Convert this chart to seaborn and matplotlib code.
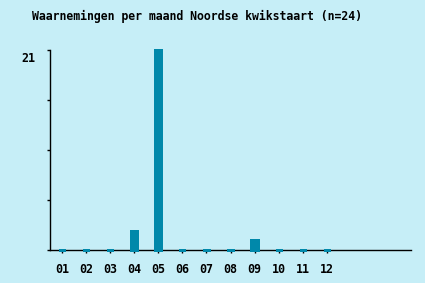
import matplotlib
matplotlib.use("Agg")
import matplotlib.pyplot as plt
import seaborn as sns
import pandas as pd

months = ["01", "02", "03", "04", "05", "06", "07", "08", "09", "10", "11", "12"]
counts = [0, 0, 0, 2, 21, 0, 0, 0, 1, 0, 0, 0]
title = "Waarnemingen per maand Noordse kwikstaart (n=24)"
ymax = 21

bg = "#c6eef7"
bar_color = "#0088aa"

sns.set_theme(style="white")
plt.rcParams["font.family"] = ["DejaVu Sans Mono"]

df = pd.DataFrame({"maand": months, "aantal": counts})

fig = plt.figure(figsize=(4.25, 2.83), dpi=100, facecolor=bg)
ax = fig.add_axes([50 / 425, 33 / 283, 361 / 425, 200 / 283])
ax.set_facecolor(bg)
ax.set_axisbelow(True)

sns.barplot(data=df, x="maand", y="aantal", order=months, color=bar_color,
            saturation=1, width=0.26, edgecolor=bar_color, linewidth=2.1, ax=ax)

for p in ax.patches:
    p.set_zorder(3)
    p.set_clip_on(False)
    p.set_antialiased(False)

ax.set_xlim(-0.5, 14.5)
ax.set_ylim(0, ymax)
ax.set_xlabel("")
ax.set_ylabel("")

for s in ["top", "right"]:
    ax.spines[s].set_visible(False)
for s in ["left", "bottom"]:
    ax.spines[s].set_color("black")
    ax.spines[s].set_linewidth(1.0)
    ax.spines[s].set_zorder(2)

ax.set_yticks([ymax * i / 4 for i in range(5)])
ax.set_yticklabels([])
ax.tick_params(axis="y", left=True, length=2.5, width=1, color="black")
ax.tick_params(axis="x", bottom=True, length=2.5, width=1, color="black",
               pad=7, labelsize=8.4)
for lbl in ax.get_xticklabels():
    lbl.set_fontweight("bold")
    lbl.set_color("black")

ax.text(-29 / 361, 1 - 2 / 200, str(ymax), transform=ax.transAxes, ha="left", va="top",
        fontsize=8.4, fontweight="bold", color="black")

fig.text(32 / 425, 1 - 16 / 283, title, ha="left", va="center",
         fontsize=8.3, fontweight="bold", color="black")

fig.savefig("out.png", dpi=100, facecolor=bg)
